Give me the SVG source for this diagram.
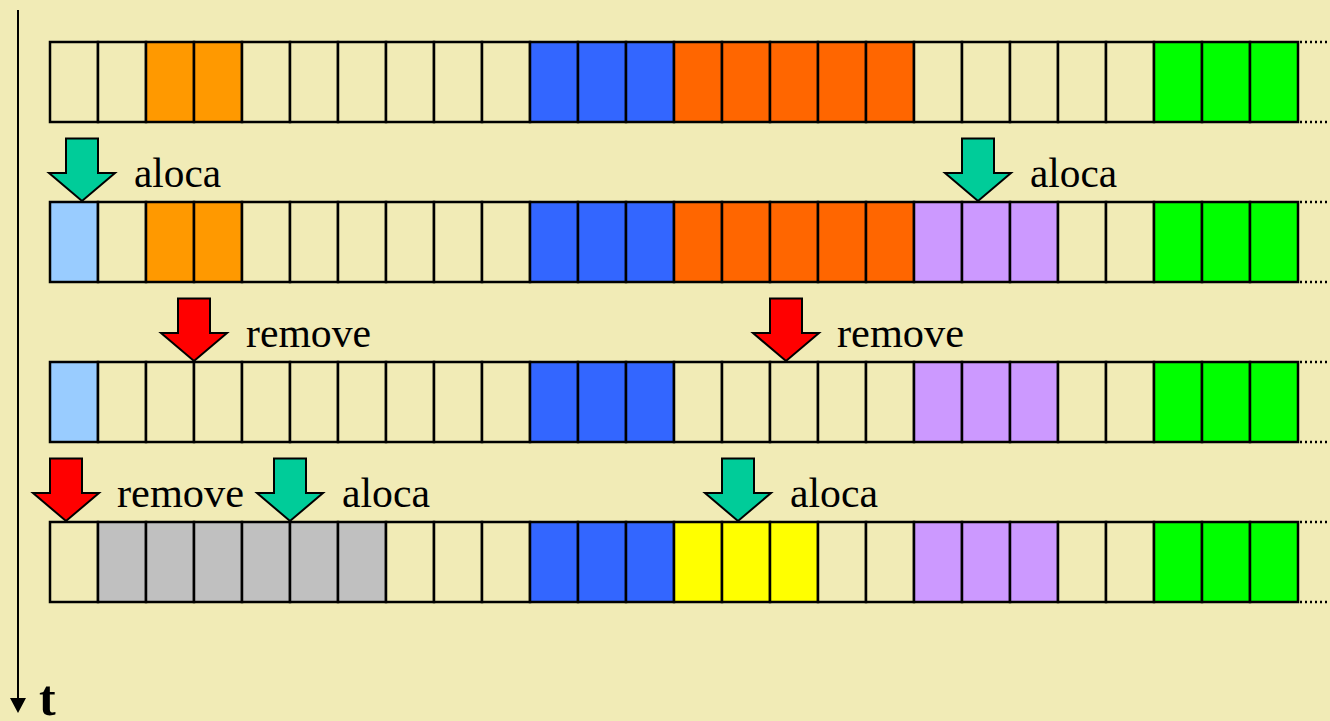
<svg xmlns="http://www.w3.org/2000/svg" xmlns:xlink="http://www.w3.org/1999/xlink" width="1330" height="721" viewBox="0 0 1330 721">
<style>
.c{stroke:#000;stroke-width:2.5}
.e{fill:#F1EBB6}.or{fill:#FF9900}.bl{fill:#3366FF}.do{fill:#FF6600}.gr{fill:#00FF00}
.lb{fill:#99CCFF}.pu{fill:#CC99FF}.ye{fill:#FFFF00}.gy{fill:#C0C0C0}
.dot{stroke:#000;stroke-width:2.5;stroke-dasharray:2 3;fill:none}
.lbl{font-family:"Liberation Serif","Times New Roman",serif;font-size:42px;fill:#000}
.ag{fill:#00CC99}.ar{fill:#FF0000}
</style>
<defs>
<path id="arrow" d="M-16,-62.5 H16 V-28 H33 L0,0 L-33,-28 H-16 Z" stroke="#000" stroke-width="2" stroke-linejoin="miter"/>
</defs>
<rect width="1330" height="721" fill="#F1EBB6"/>

<g id="connectors">
<line x1="18" y1="10" x2="18" y2="699" stroke="#000" stroke-width="2"/>
<path d="M10,698 L26,698 L18,713 Z" fill="#000"/>
</g>
<text id="t-label" x="39" y="715" font-family="Liberation Serif, Times New Roman, serif" font-weight="bold" font-size="50">t</text>

<g id="row1" class="c">
<rect class="e" x="50" y="42" width="48" height="80"/><rect class="e" x="98" y="42" width="48" height="80"/>
<rect class="or" x="146" y="42" width="48" height="80"/><rect class="or" x="194" y="42" width="48" height="80"/>
<rect class="e" x="242" y="42" width="48" height="80"/><rect class="e" x="290" y="42" width="48" height="80"/>
<rect class="e" x="338" y="42" width="48" height="80"/><rect class="e" x="386" y="42" width="48" height="80"/>
<rect class="e" x="434" y="42" width="48" height="80"/><rect class="e" x="482" y="42" width="48" height="80"/>
<rect class="bl" x="530" y="42" width="48" height="80"/><rect class="bl" x="578" y="42" width="48" height="80"/>
<rect class="bl" x="626" y="42" width="48" height="80"/>
<rect class="do" x="674" y="42" width="48" height="80"/><rect class="do" x="722" y="42" width="48" height="80"/>
<rect class="do" x="770" y="42" width="48" height="80"/><rect class="do" x="818" y="42" width="48" height="80"/>
<rect class="do" x="866" y="42" width="48" height="80"/>
<rect class="e" x="914" y="42" width="48" height="80"/><rect class="e" x="962" y="42" width="48" height="80"/>
<rect class="e" x="1010" y="42" width="48" height="80"/><rect class="e" x="1058" y="42" width="48" height="80"/>
<rect class="e" x="1106" y="42" width="48" height="80"/>
<rect class="gr" x="1154" y="42" width="48" height="80"/><rect class="gr" x="1202" y="42" width="48" height="80"/>
<rect class="gr" x="1250" y="42" width="48" height="80"/>
<line class="dot" x1="1300" y1="42" x2="1330" y2="42"/><line class="dot" x1="1300" y1="122" x2="1330" y2="122"/>
</g>

<g id="row2" class="c">
<rect class="lb" x="50" y="202" width="48" height="80"/><rect class="e" x="98" y="202" width="48" height="80"/>
<rect class="or" x="146" y="202" width="48" height="80"/><rect class="or" x="194" y="202" width="48" height="80"/>
<rect class="e" x="242" y="202" width="48" height="80"/><rect class="e" x="290" y="202" width="48" height="80"/>
<rect class="e" x="338" y="202" width="48" height="80"/><rect class="e" x="386" y="202" width="48" height="80"/>
<rect class="e" x="434" y="202" width="48" height="80"/><rect class="e" x="482" y="202" width="48" height="80"/>
<rect class="bl" x="530" y="202" width="48" height="80"/><rect class="bl" x="578" y="202" width="48" height="80"/>
<rect class="bl" x="626" y="202" width="48" height="80"/>
<rect class="do" x="674" y="202" width="48" height="80"/><rect class="do" x="722" y="202" width="48" height="80"/>
<rect class="do" x="770" y="202" width="48" height="80"/><rect class="do" x="818" y="202" width="48" height="80"/>
<rect class="do" x="866" y="202" width="48" height="80"/>
<rect class="pu" x="914" y="202" width="48" height="80"/><rect class="pu" x="962" y="202" width="48" height="80"/>
<rect class="pu" x="1010" y="202" width="48" height="80"/><rect class="e" x="1058" y="202" width="48" height="80"/>
<rect class="e" x="1106" y="202" width="48" height="80"/>
<rect class="gr" x="1154" y="202" width="48" height="80"/><rect class="gr" x="1202" y="202" width="48" height="80"/>
<rect class="gr" x="1250" y="202" width="48" height="80"/>
<line class="dot" x1="1300" y1="202" x2="1330" y2="202"/><line class="dot" x1="1300" y1="282" x2="1330" y2="282"/>
</g>

<g id="row3" class="c">
<rect class="lb" x="50" y="362" width="48" height="80"/><rect class="e" x="98" y="362" width="48" height="80"/>
<rect class="e" x="146" y="362" width="48" height="80"/><rect class="e" x="194" y="362" width="48" height="80"/>
<rect class="e" x="242" y="362" width="48" height="80"/><rect class="e" x="290" y="362" width="48" height="80"/>
<rect class="e" x="338" y="362" width="48" height="80"/><rect class="e" x="386" y="362" width="48" height="80"/>
<rect class="e" x="434" y="362" width="48" height="80"/><rect class="e" x="482" y="362" width="48" height="80"/>
<rect class="bl" x="530" y="362" width="48" height="80"/><rect class="bl" x="578" y="362" width="48" height="80"/>
<rect class="bl" x="626" y="362" width="48" height="80"/>
<rect class="e" x="674" y="362" width="48" height="80"/><rect class="e" x="722" y="362" width="48" height="80"/>
<rect class="e" x="770" y="362" width="48" height="80"/><rect class="e" x="818" y="362" width="48" height="80"/>
<rect class="e" x="866" y="362" width="48" height="80"/>
<rect class="pu" x="914" y="362" width="48" height="80"/><rect class="pu" x="962" y="362" width="48" height="80"/>
<rect class="pu" x="1010" y="362" width="48" height="80"/><rect class="e" x="1058" y="362" width="48" height="80"/>
<rect class="e" x="1106" y="362" width="48" height="80"/>
<rect class="gr" x="1154" y="362" width="48" height="80"/><rect class="gr" x="1202" y="362" width="48" height="80"/>
<rect class="gr" x="1250" y="362" width="48" height="80"/>
<line class="dot" x1="1300" y1="362" x2="1330" y2="362"/><line class="dot" x1="1300" y1="442" x2="1330" y2="442"/>
</g>

<g id="row4" class="c">
<rect class="e" x="50" y="522" width="48" height="80"/><rect class="gy" x="98" y="522" width="48" height="80"/>
<rect class="gy" x="146" y="522" width="48" height="80"/><rect class="gy" x="194" y="522" width="48" height="80"/>
<rect class="gy" x="242" y="522" width="48" height="80"/><rect class="gy" x="290" y="522" width="48" height="80"/>
<rect class="gy" x="338" y="522" width="48" height="80"/><rect class="e" x="386" y="522" width="48" height="80"/>
<rect class="e" x="434" y="522" width="48" height="80"/><rect class="e" x="482" y="522" width="48" height="80"/>
<rect class="bl" x="530" y="522" width="48" height="80"/><rect class="bl" x="578" y="522" width="48" height="80"/>
<rect class="bl" x="626" y="522" width="48" height="80"/>
<rect class="ye" x="674" y="522" width="48" height="80"/><rect class="ye" x="722" y="522" width="48" height="80"/>
<rect class="ye" x="770" y="522" width="48" height="80"/><rect class="e" x="818" y="522" width="48" height="80"/>
<rect class="e" x="866" y="522" width="48" height="80"/>
<rect class="pu" x="914" y="522" width="48" height="80"/><rect class="pu" x="962" y="522" width="48" height="80"/>
<rect class="pu" x="1010" y="522" width="48" height="80"/><rect class="e" x="1058" y="522" width="48" height="80"/>
<rect class="e" x="1106" y="522" width="48" height="80"/>
<rect class="gr" x="1154" y="522" width="48" height="80"/><rect class="gr" x="1202" y="522" width="48" height="80"/>
<rect class="gr" x="1250" y="522" width="48" height="80"/>
<line class="dot" x1="1300" y1="522" x2="1330" y2="522"/><line class="dot" x1="1300" y1="602" x2="1330" y2="602"/>
</g>

<g id="op-aloca-1"><use xlink:href="#arrow" class="ag" transform="translate(82,201)"/><text class="lbl" x="134" y="187" textLength="87" lengthAdjust="spacingAndGlyphs">aloca</text></g>
<g id="op-aloca-2"><use xlink:href="#arrow" class="ag" transform="translate(978,201)"/><text class="lbl" x="1030" y="187" textLength="87" lengthAdjust="spacingAndGlyphs">aloca</text></g>
<g id="op-remove-1"><use xlink:href="#arrow" class="ar" transform="translate(194,361)"/><text class="lbl" x="246" y="347" textLength="125" lengthAdjust="spacingAndGlyphs">remove</text></g>
<g id="op-remove-2"><use xlink:href="#arrow" class="ar" transform="translate(786,361)"/><text class="lbl" x="837" y="347" textLength="127" lengthAdjust="spacingAndGlyphs">remove</text></g>
<g id="op-remove-3"><use xlink:href="#arrow" class="ar" transform="translate(66,521)"/><text class="lbl" x="117" y="507" textLength="127" lengthAdjust="spacingAndGlyphs">remove</text></g>
<g id="op-aloca-3"><use xlink:href="#arrow" class="ag" transform="translate(290,521)"/><text class="lbl" x="342" y="507" textLength="88" lengthAdjust="spacingAndGlyphs">aloca</text></g>
<g id="op-aloca-4"><use xlink:href="#arrow" class="ag" transform="translate(738,521)"/><text class="lbl" x="790" y="507" textLength="88" lengthAdjust="spacingAndGlyphs">aloca</text></g>
</svg>
